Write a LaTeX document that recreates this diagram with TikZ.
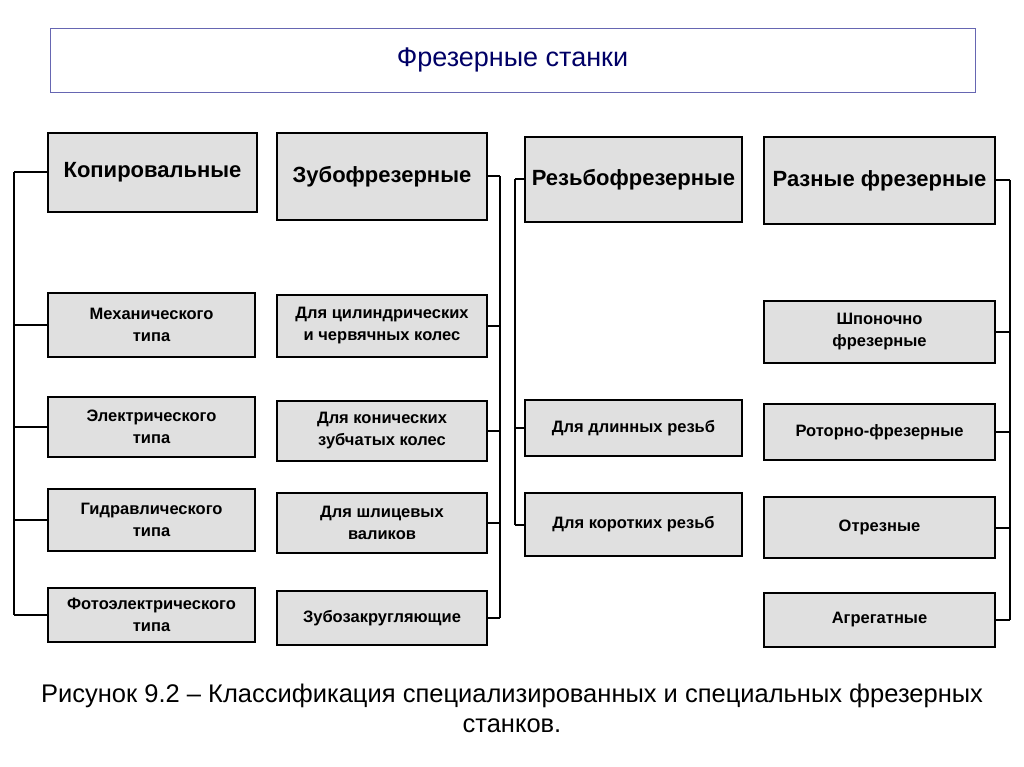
\documentclass[tikz,border=0pt]{standalone}
\usepackage{fontspec}
\setmainfont{Liberation Sans}
\begin{document}
\begin{tikzpicture}[x=1pt,y=-1pt,
  hd/.style={draw=black,line width=2.2pt,fill=black!12,font=\bfseries\fontsize{22}{24}\selectfont,inner sep=0pt,align=center},
  sb/.style={draw=black,line width=2pt,fill=black!12,font=\bfseries\fontsize{16.5}{22}\selectfont,inner sep=0pt,align=center},
  ln/.style={line width=2pt}]
\useasboundingbox[fill=white] (0,0) rectangle (1024,767);
\node[draw=black!50!blue!60,line width=0.8pt,minimum width=925pt,minimum height=64pt,font=\fontsize{27}{30}\selectfont,text=black!60!blue] (t) at (512.5,60) {Фрезерные станки};
% column 1
\node[hd,minimum width=209pt,minimum height=79pt] (a) at (152.5,172.5) {Копировальные};
\node[sb,minimum width=207pt,minimum height=64pt] (a1) at (151.5,325) {Механического\\типа};
\node[sb,minimum width=207pt,minimum height=60pt] (a2) at (151.5,427) {Электрического\\типа};
\node[sb,minimum width=207pt,minimum height=62pt] (a3) at (151.5,520) {Гидравлического\\типа};
\node[sb,minimum width=207pt,minimum height=54pt] (a4) at (151.5,615) {Фотоэлектрического\\типа};
\coordinate (ab1) at (14,172.5); \coordinate (ab2) at (14,615);
\draw[ln] (ab1)--(ab2);
\foreach \n in {a,a1,a2,a3,a4} \draw[ln] (\n.west)--(\n.west -| ab1);
% column 2
\node[hd,minimum width=210pt,minimum height=87pt] (b) at (382,176.5) {Зубофрезерные};
\node[sb,minimum width=210pt,minimum height=62pt] (b1) at (382,326) {Для цилиндрических\\и червячных колес};
\node[sb,minimum width=210pt,minimum height=60pt] (b2) at (382,431) {Для конических\\зубчатых колес};
\node[sb,minimum width=210pt,minimum height=60pt] (b3) at (382,523) {Для шлицевых\\валиков};
\node[sb,minimum width=210pt,minimum height=54pt] (b4) at (382,618) {Зубозакругляющие};
\coordinate (bb1) at (500,176.5); \coordinate (bb2) at (500,618);
\draw[ln] (bb1)--(bb2);
\foreach \n in {b,b1,b2,b3,b4} \draw[ln] (\n.east)--(\n.east -| bb1);
% column 3
\node[hd,minimum width=217pt,minimum height=85pt] (c) at (633.5,179.5) {Резьбофрезерные};
\node[sb,minimum width=217pt,minimum height=56pt] (c1) at (633.5,428) {Для длинных резьб};
\node[sb,minimum width=217pt,minimum height=63pt] (c2) at (633.5,524.5) {Для коротких резьб};
\coordinate (cb1) at (515,179.5); \coordinate (cb2) at (515,524.5);
\draw[ln] (cb1)--(cb2);
\foreach \n in {c,c1,c2} \draw[ln] (\n.west)--(\n.west -| cb1);
% column 4
\node[hd,minimum width=231pt,minimum height=87pt] (d) at (879.5,180.5) {Разные фрезерные};
\node[sb,minimum width=231pt,minimum height=62pt] (d1) at (879.5,332) {Шпоночно\\фрезерные};
\node[sb,minimum width=231pt,minimum height=56pt] (d2) at (879.5,432) {Роторно-фрезерные};
\node[sb,minimum width=231pt,minimum height=61pt] (d3) at (879.5,527.5) {Отрезные};
\node[sb,minimum width=231pt,minimum height=54pt] (d4) at (879.5,620) {Агрегатные};
\coordinate (db1) at (1010,180.5); \coordinate (db2) at (1010,620);
\draw[ln] (db1)--(db2);
\foreach \n in {d,d1,d2,d3,d4} \draw[ln] (\n.east)--(\n.east -| db1);
% caption
\node[font=\fontsize{25.5}{30}\selectfont,align=center] (cap) at (512,708) {Рисунок 9.2 – Классификация специализированных и специальных фрезерных\\станков.};
\end{tikzpicture}
\end{document}
